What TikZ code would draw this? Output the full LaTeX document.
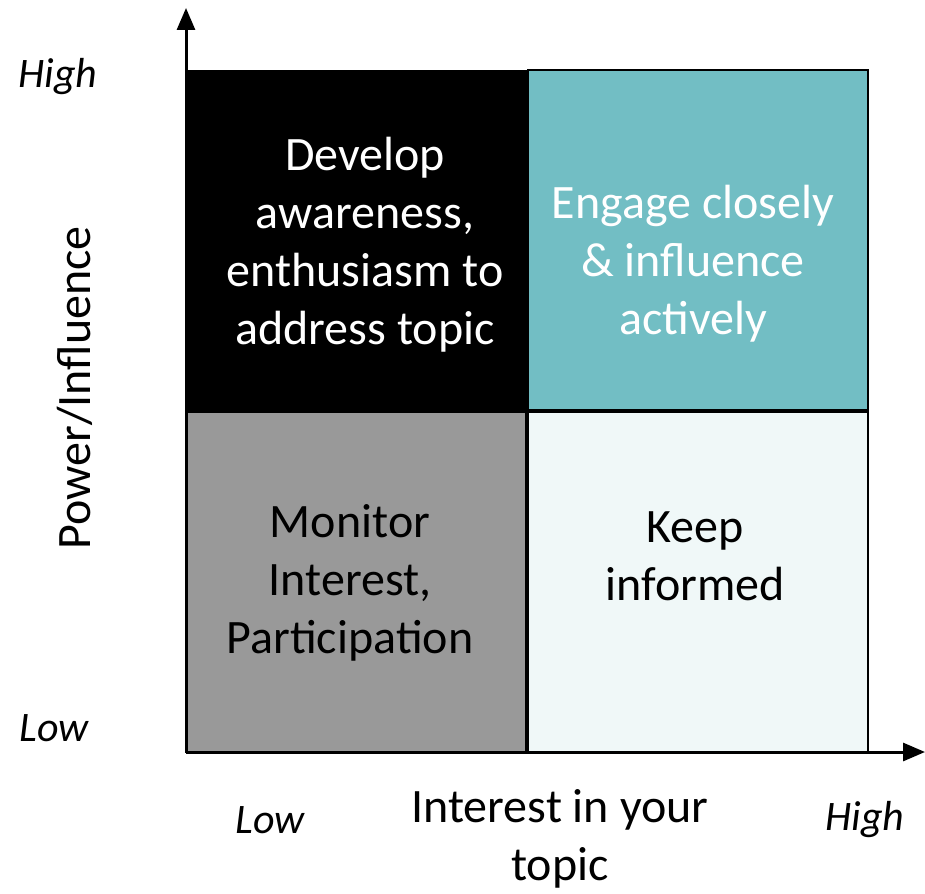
\documentclass[tikz,border=0pt]{standalone}
\usepackage{fontspec}
\setmainfont{Carlito}
\usetikzlibrary{arrows.meta}
\definecolor{tealbox}{RGB}{114,190,196}
\definecolor{greybox}{RGB}{153,153,153}
\definecolor{palebox}{RGB}{240,248,248}
\tikzset{
  quad/.style={draw=black,line width=1pt},
  quadtext/.style={align=center,font=\fontsize{24}{29}\selectfont},
  axislab/.style={font=\fontsize{21}{24}\selectfont\itshape},
}

\begin{document}
\begin{tikzpicture}[x=0.5pt,y=-0.5pt]
  \useasboundingbox (0,0) rectangle (925,893);
  % the four quadrants
  \fill[black] (186,70) rectangle (527,411);
  \draw[quad,fill=tealbox] (528,70) rectangle (868,410);
  \draw[quad,fill=greybox] (186,412) rectangle (526,752);
  \draw[quad,fill=palebox] (528,412) rectangle (868,752);
  \node[quadtext,text=white] (develop) at (365,245) {Develop\\awareness,\\enthusiasm to\\address topic};
  \node[quadtext,text=white] (engage) at (693,264) {Engage closely\\\& influence\\actively};
  \node[quadtext] (monitor) at (350,583) {Monitor\\Interest,\\Participation};
  \node[quadtext] (keep) at (695,556) {Keep\\informed};
  % axes
  \coordinate (origin) at (186,752);
  \coordinate (ytip) at (186,8);
  \coordinate (xtip) at (925,752);
  \draw[line width=1.5pt,-{Triangle[width=9pt,length=11pt]}] (origin) -- (ytip);
  \draw[line width=1.5pt,-{Triangle[width=9pt,length=11pt]}] (origin) -- (xtip);
  \node[axislab] (yhigh) at (58,77) {High};
  \node[axislab] (ylow) at (54,728) {Low};
  \node[axislab] (xlow) at (270,820) {Low};
  \node[axislab] (xhigh) at (865,820) {High};
  \node[quadtext,rotate=90] (power) at (75,388) {Power/Influence};
  \node[quadtext] (interest) at (560,839) {Interest in your\\topic};
\end{tikzpicture}
\end{document}
